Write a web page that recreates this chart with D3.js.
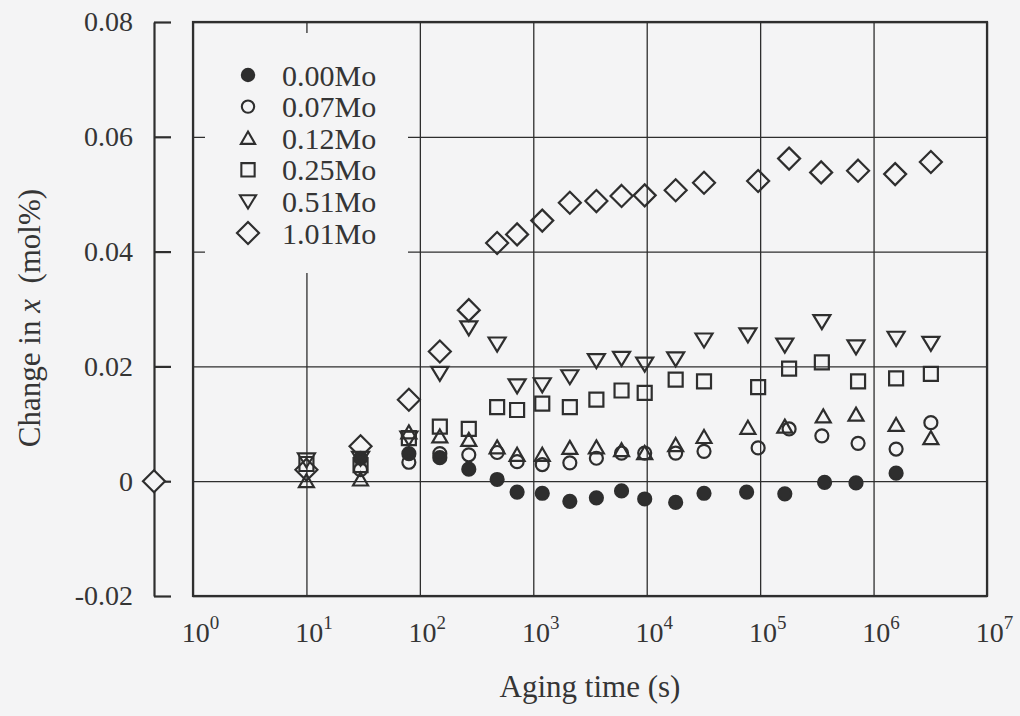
<!DOCTYPE html>
<html>
<head>
<meta charset="utf-8">
<script src="https://cdn.jsdelivr.net/npm/d3@7"></script>
<style>
  body { margin: 0; background: #f4f4f5; }
  svg { display: block; }
  svg text { font-family: "Liberation Serif", "DejaVu Serif", "Times New Roman", serif !important; fill: #353535; }
</style>
</head>
<body>
<svg id="chart"></svg>
<script>
// 1: DATA
const seriesLabels = ["0.00Mo", "0.07Mo", "0.12Mo", "0.25Mo", "0.51Mo", "1.01Mo"];
const seriesShapes = ["filledCircle", "circle", "triangleUp", "square", "triangleDown", "diamond"];

const times000 = [30, 80, 150, 270, 480, 720, 1200, 2100, 3600, 6000, 9600, 18000, 32000, 76000, 165000, 370000, 700000, 1.58e6];
const values000 = [0.0040, 0.0048, 0.0041, 0.0021, 0.0003, -0.0019, -0.0021, -0.0035, -0.0029, -0.0017, -0.0031, -0.0037, -0.0021, -0.0019, -0.0022, -0.0002, -0.0003, 0.0014];

const times007 = [30, 80, 150, 270, 480, 720, 1200, 2100, 3600, 6000, 9600, 18000, 32000, 96000, 180000, 350000, 730000, 1.58e6, 3.2e6];
const values007 = [0.0020, 0.0033, 0.0048, 0.0046, 0.0050, 0.0034, 0.0029, 0.0032, 0.0040, 0.0049, 0.0049, 0.0049, 0.0052, 0.0058, 0.0091, 0.0079, 0.0066, 0.0056, 0.0102];

const times012 = [10, 30, 80, 150, 270, 480, 720, 1200, 2100, 3600, 6000, 9600, 18000, 32000, 78000, 165000, 360000, 700000, 1.58e6, 3.2e6];
const values012 = [0.0000, 0.0003, 0.0085, 0.0078, 0.0072, 0.0059, 0.0046, 0.0046, 0.0058, 0.0059, 0.0054, 0.0049, 0.0063, 0.0077, 0.0093, 0.0095, 0.0113, 0.0116, 0.0098, 0.0075];

const times025 = [10, 30, 80, 150, 270, 480, 720, 1200, 2100, 3600, 6000, 9600, 18000, 32000, 96000, 180000, 350000, 730000, 1.58e6, 3.2e6];
const values025 = [0.0030, 0.0028, 0.0075, 0.0095, 0.0091, 0.0129, 0.0124, 0.0135, 0.0129, 0.0142, 0.0158, 0.0154, 0.0177, 0.0174, 0.0164, 0.0196, 0.0207, 0.0174, 0.0179, 0.0187];

const times051 = [10, 30, 80, 150, 270, 480, 720, 1200, 2100, 3600, 6000, 9600, 18000, 32000, 78000, 165000, 350000, 700000, 1.58e6, 3.2e6];
const values051 = [0.0037, 0.0040, 0.0075, 0.0188, 0.0267, 0.0239, 0.0166, 0.0168, 0.0182, 0.0210, 0.0214, 0.0204, 0.0213, 0.0246, 0.0255, 0.0237, 0.0278, 0.0234, 0.0249, 0.0240];

const times101 = [10, 30, 80, 150, 270, 480, 720, 1200, 2100, 3600, 6000, 9600, 18000, 32000, 96000, 180000, 345000, 730000, 1.55e6, 3.2e6];
const values101 = [0.0020, 0.0061, 0.0142, 0.0226, 0.0298, 0.0415, 0.0430, 0.0454, 0.0485, 0.0488, 0.0497, 0.0498, 0.0507, 0.0520, 0.0523, 0.0562, 0.0538, 0.0541, 0.0535, 0.0556];

// value at aging time 0, drawn on the offset y axis
const zeroTimeValue = 0;

const xTickExponents = [0, 1, 2, 3, 4, 5, 6, 7];
const yTickValues = [-0.02, 0, 0.02, 0.04, 0.06, 0.08];
const yTickLabels = ["-0.02", "0", "0.02", "0.04", "0.06", "0.08"];

const seriesTimes = [times000, times007, times012, times025, times051, times101];
const seriesValues = [values000, values007, values012, values025, values051, values101];

// 2: LAYOUT
const W = 1020, H = 716;
const plot = { left: 193, right: 987, top: 22, bottom: 596 };
const yAxisX = 154;
const ink = "#2e2e2e";
const bg = "#f4f4f5";
const serif = "'Liberation Serif', 'DejaVu Serif', serif";

const svg = d3.select("#chart").attr("width", W).attr("height", H);
svg.append("rect").attr("width", W).attr("height", H).attr("fill", bg);

// 3: SCALES
const xScale = d3.scaleLog().domain([1, 1e7]).range([plot.left, plot.right]);
const yScale = d3.scaleLinear().domain([-0.02, 0.08]).range([plot.bottom, plot.top]);

// 4: GRID (through axes with full-length ticks)
const xGrid = svg.append("g")
    .attr("transform", `translate(0,${plot.bottom})`)
    .call(d3.axisBottom(xScale)
        .tickValues(xTickExponents.map(e => Math.pow(10, e)))
        .tickSizeInner(-(plot.bottom - plot.top))
        .tickSizeOuter(0)
        .tickFormat(""));
xGrid.attr("font-family", serif);
xGrid.select(".domain").remove();
xGrid.selectAll(".tick line").attr("stroke", ink).attr("stroke-width", 1.3);

const yGrid = svg.append("g")
    .attr("transform", `translate(${plot.left},0)`)
    .call(d3.axisLeft(yScale)
        .tickValues(yTickValues)
        .tickSizeInner(-(plot.right - plot.left))
        .tickSizeOuter(0)
        .tickFormat(""));
yGrid.select(".domain").remove();
yGrid.selectAll(".tick line").attr("stroke", ink).attr("stroke-width", 1.3);

// x tick labels: 10 with superscript exponent
xGrid.selectAll(".tick").append("text")
    .attr("y", 46)
    .attr("x", 7)
    .attr("text-anchor", "middle")
    .style("font-size", "28px")
    .style("font-family", serif)
    .attr("fill", "#353535")
    .each(function (d) {
        const t = d3.select(this);
        t.append("tspan").text("10");
        t.append("tspan").attr("dy", -13).style("font-size", "19px").text(Math.round(Math.log10(d)));
    });

// plot frame
svg.append("rect")
    .attr("x", plot.left).attr("y", plot.top)
    .attr("width", plot.right - plot.left).attr("height", plot.bottom - plot.top)
    .attr("fill", "none").attr("stroke", ink).attr("stroke-width", 2.2);

// 5: OFFSET Y AXIS
const yAxis = svg.append("g")
    .attr("transform", `translate(${yAxisX},0)`)
    .call(d3.axisLeft(yScale)
        .tickValues(yTickValues)
        .tickSizeInner(-17)
        .tickSizeOuter(0)
        .tickPadding(21)
        .tickFormat((d, i) => yTickLabels[i]));
yAxis.attr("font-family", serif);
yAxis.select(".domain").attr("stroke", ink).attr("stroke-width", 2.2);
yAxis.selectAll(".tick line").attr("stroke", ink).attr("stroke-width", 2.2);
yAxis.selectAll(".tick text")
    .style("font-size", "28px")
    .style("font-family", serif)
    .attr("fill", "#353535");

// 6: AXIS TITLES
svg.append("text")
    .attr("x", (plot.left + plot.right) / 2)
    .attr("y", 697)
    .attr("text-anchor", "middle")
    .style("font-size", "31px")
    .style("font-family", serif)
    .text("Aging time (s)");

const yTitle = svg.append("text")
    .attr("transform", `translate(40,318) rotate(-90)`)
    .attr("text-anchor", "middle")
    .style("font-size", "31px")
    .style("font-family", serif);
yTitle.append("tspan").text("Change in ");
yTitle.append("tspan").style("font-style", "italic").text("x");
yTitle.append("tspan").text("\u00a0\u00a0(mol%)");

// 7: MARKERS
function shapePath(shape) {
    switch (shape) {
        case "filledCircle":
        case "circle": {
            const r = 6.5;
            return `M${r},0A${r},${r} 0 1,1 ${-r},0A${r},${r} 0 1,1 ${r},0Z`;
        }
        case "triangleUp":
            return "M0,-7L7.5,6L-7.5,6Z";
        case "triangleDown":
            return "M-8.5,-6.5L8.5,-6.5L0,7.5Z";
        case "square":
            return "M-7,-7H7V7H-7Z";
        case "diamond":
            return "M0,-11L11,0L0,11L-11,0Z";
    }
}

seriesLabels.forEach((label, i) => {
    const shape = seriesShapes[i];
    const pts = seriesTimes[i].map((t, j) => ({ t: t, v: seriesValues[i][j] }));
    svg.append("g").attr("class", "series")
        .selectAll("path")
        .data(pts)
        .join("path")
        .attr("transform", d => `translate(${xScale(d.t)},${yScale(d.v)})`)
        .attr("d", shapePath(shape))
        .attr("fill", shape === "filledCircle" ? ink : "none")
        .attr("stroke", ink)
        .attr("stroke-width", 2.2);
});

// point at aging time 0
svg.append("path")
    .attr("transform", `translate(${yAxisX},${yScale(zeroTimeValue)})`)
    .attr("d", shapePath("diamond"))
    .attr("fill", bg)
    .attr("stroke", ink)
    .attr("stroke-width", 2.2);

// 8: LEGEND (opaque box that hides the grid behind it)
const legend = svg.append("g");
legend.append("rect")
    .attr("x", 205).attr("y", 33).attr("width", 203).attr("height", 240)
    .attr("fill", bg);
seriesLabels.forEach((label, i) => {
    const row = legend.append("g").attr("transform", `translate(248,${75 + i * 31.6})`);
    row.append("path")
        .attr("d", shapePath(seriesShapes[i]))
        .attr("transform", seriesShapes[i] === "diamond" ? "" : "scale(0.95)")
        .attr("fill", seriesShapes[i] === "filledCircle" ? ink : "none")
        .attr("stroke", ink)
        .attr("stroke-width", 2.2);
    row.append("text")
        .attr("x", 34)
        .attr("dy", "0.35em")
        .style("font-size", "30px")
        .style("font-family", serif)
        .text(label);
});
</script>
</body>
</html>
